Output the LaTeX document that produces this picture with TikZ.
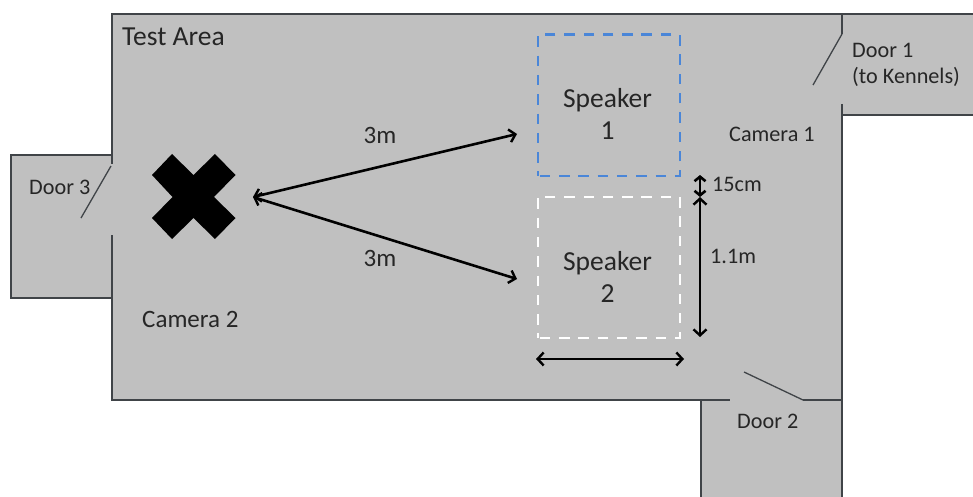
\documentclass[tikz,border=0pt]{standalone}
\usepackage{fontspec}
\setmainfont{Carlito}
\usetikzlibrary{arrows.meta}
\definecolor{roomgray}{HTML}{C0C0C0}
\definecolor{wall}{HTML}{404448}
\definecolor{spkblue}{HTML}{4A86D8}
\definecolor{txt}{HTML}{262626}
\tikzset{
  wallline/.style={draw=wall,line width=1.6pt},
  doorline/.style={draw=wall,line width=1.3pt},
  dim/.style={draw=black,line width=2.6pt,{Straight Barb[length=6pt,width=13pt,line width=2.4pt]}-{Straight Barb[length=6pt,width=13pt,line width=2.4pt]}},
  spkbox/.style={line width=2.5pt,dash pattern=on 10.5pt off 8.8pt,dash phase=-2pt,minimum width=142pt,minimum height=141pt,inner sep=0pt,anchor=north west},
  spktext/.style={align=center,text=txt,inner sep=0pt,font=\fontsize{27.5}{32}\selectfont},
  lab/.style={text=txt,font=\fontsize{22.2}{26}\selectfont,inner sep=0pt,align=left},
  midl/.style={text=txt,font=\fontsize{25}{30}\selectfont,inner sep=0pt},
  bigl/.style={text=txt,font=\fontsize{27.5}{32}\selectfont,inner sep=0pt},
}
\begin{document}
\begin{tikzpicture}[x=1pt,y=-1pt]
\useasboundingbox (0,0) rectangle (973,497);
\fill[roomgray] (112,14) -- (973,14) -- (973,115) -- (842,115) -- (842,497) -- (701,497) -- (701,400) -- (112,400) -- (112,298) -- (11,298) -- (11,155) -- (112,155) -- cycle;
% walls
\draw[wallline] (112,164) -- (112,14) -- (973,14);
\draw[wallline] (842,14) -- (842,34);
\draw[wallline] (842,104) -- (842,497);
\draw[wallline] (842,115) -- (973,115);
\draw[wallline] (112,155) -- (11,155) -- (11,298) -- (112,298);
\draw[wallline] (112,235) -- (112,400) -- (730,400);
\draw[wallline] (803,400) -- (842,400);
\draw[wallline] (701,400) -- (701,497);
% doors
\coordinate (d1a) at (842,34); \coordinate (d1b) at (813,85);
\coordinate (d2a) at (803,400); \coordinate (d2b) at (744,372);
\coordinate (d3a) at (111,166); \coordinate (d3b) at (81,218);
\draw[doorline] (d1a) -- (d1b);
\draw[doorline] (d2a) -- (d2b);
\draw[doorline] (d3a) -- (d3b);
% cross
\fill[black] (172,154) -- (193.5,175) -- (215,154) -- (235.5,175) -- (214,197) -- (235.5,218) -- (215,239) -- (193.5,218) -- (172,239) -- (152,218) -- (172.5,197) -- (152,175) -- cycle;
% speakers
\node[spkbox,draw=spkblue] (s1) at (536.5,33.5) {};
\node[spkbox,draw=white] (s2) at (536.5,195.5) {};
\node[spktext] (s1t) at (607.5,114) {Speaker\\1};
\node[spktext] (s2t) at (607.5,277) {Speaker\\2};
% dimension connectors
\coordinate (o) at (253,197);
\coordinate (t1) at (517,134);
\coordinate (t2) at (517,279);
\coordinate (v0) at (700,175);
\coordinate (v1) at (700,197);
\coordinate (v2) at (700,337);
\coordinate (h1) at (536,359);
\coordinate (h2) at (684,359);
\draw[dim] (o) -- (t1);
\draw[dim] (o) -- (t2);
\draw[dim,{Straight Barb[length=4.5pt,width=11pt,line width=2.6pt]}-{Straight Barb[length=4.5pt,width=11pt,line width=2.6pt]}] (v0) -- (v1);
\draw[dim] (v1) -- (v2);
\draw[dim] (h1) -- (h2);
% labels
\node[bigl,anchor=base west] (ta) at (122,46) {Test Area};
\node[midl,anchor=base] (m1) at (380,144) {3m};
\node[midl,anchor=base] (m2) at (380,266) {3m};
\node[lab,anchor=base west] (cam1) at (729,142) {Camera 1};
\node[midl,anchor=base west] (cam2) at (142,327) {Camera 2};
\node[lab,anchor=base west] (d3) at (29,194) {Door 3};
\node[lab,anchor=base west] (d2) at (737,428) {Door 2};
\node[lab,anchor=base west] (d1) at (852,58) {Door 1};
\node[lab,anchor=base west] (d1s) at (852,84) {(to Kennels)};
\node[lab,anchor=base west] (c15) at (712,191) {15cm};
\node[lab,anchor=base west] (m11) at (710,263) {1.1m};
\end{tikzpicture}
\end{document}
